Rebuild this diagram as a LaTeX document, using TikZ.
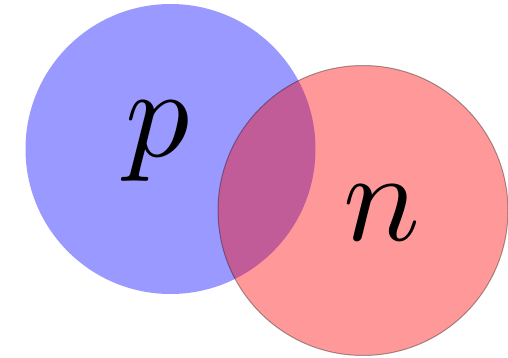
\documentclass[tikz,border=0pt]{standalone}
\begin{document}
\begin{tikzpicture}[x=1pt,y=-1pt,
  disc/.style={circle,inner sep=0pt,minimum size=290pt},
  lbl/.style={anchor=base,inner sep=0pt}]
\useasboundingbox (0,0) rectangle (508,358);
\node[disc,fill=blue,fill opacity=0.4] (P) at (170.5,149) {};
\node[disc,fill=red,fill opacity=0.4,draw=black,draw opacity=0.35,line width=1pt] (N) at (363,210.5) {};
\node[lbl] (pl) at (158,157) {\scalebox{12.8}{$p$}};
\node[lbl] (nl) at (382,240) {\scalebox{12.8}{$n$}};
\end{tikzpicture}
\end{document}
